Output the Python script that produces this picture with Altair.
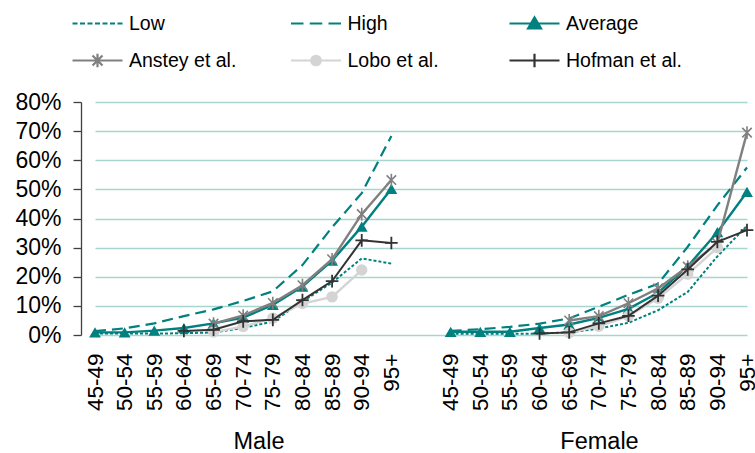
import altair as alt
import pandas as pd

ages = ["45-49", "50-54", "55-59", "60-64", "65-69", "70-74", "75-79",
        "80-84", "85-89", "90-94", "95+"]
sexes = ["Male", "Female"]
series_names = ["Low", "High", "Average", "Anstey et al.", "Lobo et al.", "Hofman et al."]

# prevalence (%)
low_m = [0.5, 0.5, 0.5, 0.6, 0.9, 2.4, 4.6, 11.5, 18.0, 26.3, 24.5]
high_m = [1.3, 2.3, 4.0, 6.5, 8.8, 11.7, 15.0, 24.0, 37.0, 48.7, 68.3]
avg_m = [0.9, 0.9, 1.5, 2.4, 4.0, 6.0, 10.3, 16.6, 25.5, 37.2, 50.2]
anstey_m = [None, None, None, None, 3.9, 6.7, 11.0, 17.1, 26.0, 41.5, 53.2]
lobo_m = [None, None, None, None, 1.0, 2.9, 5.8, 10.8, 13.1, 22.3, None]
hofman_m = [None, None, None, 1.4, 1.8, 4.7, 5.2, 12.0, 18.5, 32.5, 31.6]

low_f = [0.4, 0.4, 0.4, 0.5, 0.9, 2.2, 4.2, 8.5, 14.8, 27.0, 37.5]
high_f = [1.4, 2.0, 2.8, 3.9, 5.7, 9.7, 13.8, 17.6, 30.3, 44.5, 57.5]
avg_f = [1.1, 1.1, 1.1, 2.4, 3.6, 5.9, 9.0, 14.5, 23.6, 35.3, 49.1]
anstey_f = [None, None, None, None, 5.0, 6.5, 10.9, 16.0, 23.5, 31.5, 69.5]
lobo_f = [None, None, None, None, 0.8, 3.0, 6.5, 12.6, 20.9, 30.0, None]
hofman_f = [None, None, None, 0.5, 0.9, 4.0, 6.6, 13.5, 22.5, 32.0, 36.0]

male_vals = [low_m, high_m, avg_m, anstey_m, lobo_m, hofman_m]
female_vals = [low_f, high_f, avg_f, anstey_f, lobo_f, hofman_f]

# category keys: male ages, one blank slot, female ages
keys = [f"M|{a}" for a in ages] + ["M|"] + [f"F|{a}" for a in ages]

rows = []
for sex, table in (("Male", male_vals), ("Female", female_vals)):
    for name, vals in zip(series_names, table):
        for age, v in zip(ages, vals):
            if v is None:
                continue
            rows.append({"sex": sex, "key": f"{sex[0]}|{age}", "series": name, "value": v / 100})
df = pd.DataFrame(rows)

TEAL = "#00807F"
FONT = "Liberation Sans"
styles = {
    "Low": dict(color=TEAL, strokeWidth=2.0, strokeDash=[3, 2]),
    "High": dict(color=TEAL, strokeWidth=2.2, strokeDash=[11, 6]),
    "Average": dict(color=TEAL, strokeWidth=2.4),
    "Anstey et al.": dict(color="#808080", strokeWidth=2.4),
    "Lobo et al.": dict(color="#D4D4D4", strokeWidth=2.4),
    "Hofman et al.": dict(color="#333333", strokeWidth=2.0),
}
ASTER = "M-0.75,-0.75L0.75,0.75M-0.75,0.75L0.75,-0.75M0,-1L0,1"
PLUS = "M-1,0L1,0M0,-1L0,1"
markers = {
    "Average": dict(shape="triangle-up", filled=True, size=140),
    "Anstey et al.": dict(shape=ASTER, filled=False, size=160, strokeWidth=1.6),
    "Lobo et al.": dict(shape="circle", filled=True, size=130),
    "Hofman et al.": dict(shape=PLUS, filled=False, size=160, strokeWidth=1.8),
}

X = alt.X("key:N", sort=keys,
          scale=alt.Scale(type="point", domain=keys, range=[14, 666], padding=0),
          axis=alt.Axis(title=None, grid=False, ticks=False, domain=False, labelAngle=-90,
                        labelPadding=18, labelFontSize=22.5, labelFont=FONT, labelColor="#000000",
                        labelOverlap=False, labelExpr="split(datum.label, '|')[1]"))
Y = alt.Y("value:Q",
          scale=alt.Scale(domain=[0, 0.8], nice=False, zero=True),
          axis=alt.Axis(title=None, values=[0, 0.1, 0.2, 0.3, 0.4, 0.5, 0.6, 0.7, 0.8], format=".0%",
                        tickSize=8, labelPadding=12, labelFontSize=23, labelFont=FONT,
                        labelColor="#000000", domainColor="#404040", tickColor="#404040",
                        domainWidth=1.3, tickWidth=1.3,
                        gridColor="#A9D5CF", gridWidth=1.3))

data_layers = []
for s in series_names:
    base = alt.Chart(df).transform_filter(alt.datum.series == s)
    data_layers.append(base.mark_line(**styles[s]).encode(x=X, y=Y, detail="sex:N"))
    if s in markers:
        m = markers[s]
        data_layers.append(base.mark_point(color=styles[s]["color"], opacity=1, **m).encode(x=X, y=Y))
data_layer = alt.layer(*data_layers)

# group labels under the age axis
grp_df = pd.DataFrame({"group": sexes})
group_layer = alt.Chart(grp_df).mark_point(opacity=0).encode(
    x=alt.X("group:N", sort=sexes,
            scale=alt.Scale(type="point", domain=sexes, range=[177.5, 518], padding=0),
            axis=alt.Axis(orient="bottom", title=None, ticks=False, domain=False, grid=False,
                          labelAngle=0, labelPadding=94, labelFontSize=23.5, labelFont=FONT,
                          labelColor="#000000")),
    y=alt.value(0))

# legend (symbols drawn as line + marker)
leg_paths = [
    "M-1,0L-0.8,0M-0.7,0L-0.5,0M-0.4,0L-0.2,0M-0.1,0L0.1,0M0.2,0L0.4,0M0.5,0L0.7,0M0.8,0L1,0",
    "M-1,0L-0.5,0M-0.25,0L0.25,0M0.5,0L1,0",
    "M-1,0L1,0M-0.26,0.2L0,-0.24L0.26,0.2Z",
    "M-1,0L1,0M-0.2,-0.2L0.2,0.2M-0.2,0.2L0.2,-0.2M0,-0.27L0,0.27",
    "M-1,0L1,0M0.19,0A0.19,0.19 0 1,1 -0.19,0A0.19,0.19 0 1,1 0.19,0Z",
    "M-1,0L1,0M0,-0.27L0,0.27",
]
leg_colors = [styles[s]["color"] for s in series_names]
L = alt.Legend(title=None, orient="none", legendX=-10, legendY=-106, columns=3, direction="horizontal",
               columnPadding=41.5, rowPadding=-16, gridAlign="all", labelFontSize=19.5,
               labelFont=FONT, labelColor="#000000", labelOffset=5, symbolSize=2500,
               symbolStrokeWidth=2.2, symbolOpacity=1, padding=0, labelLimit=300)
leg_df = pd.DataFrame({"lseries": series_names})
legend_layer = alt.Chart(leg_df).transform_filter("false").mark_point(
    filled=True, size=2500, opacity=1, strokeWidth=2.2).encode(
    fill=alt.Fill("lseries:N", sort=series_names, scale=alt.Scale(domain=series_names, range=leg_colors), legend=L),
    stroke=alt.Stroke("lseries:N", sort=series_names, scale=alt.Scale(domain=series_names, range=leg_colors), legend=L),
    shape=alt.Shape("lseries:N", sort=series_names, scale=alt.Scale(domain=series_names, range=leg_paths), legend=L),
)

chart = alt.layer(data_layer, group_layer, legend_layer).resolve_scale(
    x="independent"
).properties(
    width=674, height=233,
    autosize=alt.AutoSizeParams(type="none"),
    padding={"left": 81, "top": 102, "right": 0, "bottom": 118},
    background="white",
).configure_view(stroke=None)

chart.save("out.html", embed_options={"renderer": "svg", "actions": False})
